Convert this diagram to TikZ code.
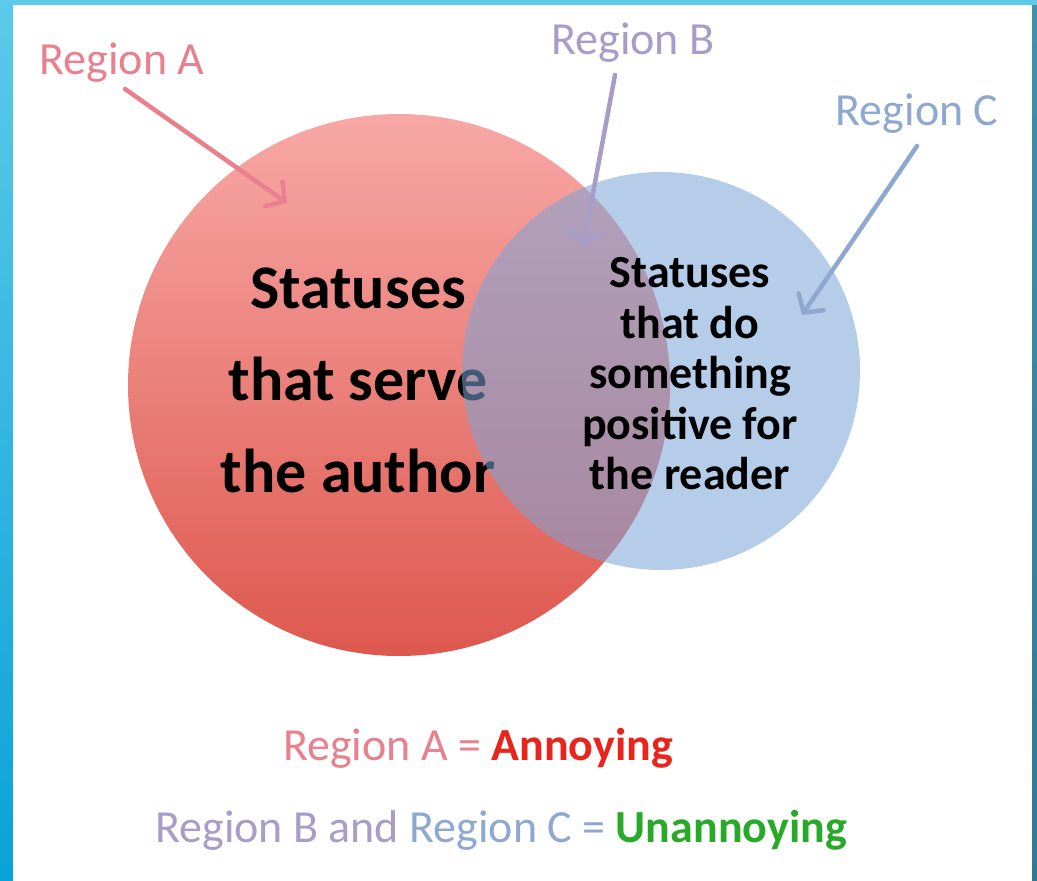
\documentclass[tikz,border=0pt]{standalone}
\usepackage{fontspec}
\setmainfont{Carlito}
\usepackage{xcolor}
\usepackage{tikz}
\usetikzlibrary{arrows.meta,positioning,calc}
\definecolor{frameTop}{RGB}{92,202,234}
\definecolor{frameBot}{RGB}{10,162,216}
\definecolor{frameRight}{RGB}{52,120,142}
\definecolor{regionA}{RGB}{232,128,142}
\definecolor{regionB}{RGB}{168,156,200}
\definecolor{regionC}{RGB}{142,168,208}
\definecolor{redTop}{RGB}{248,168,166}
\definecolor{redBot}{RGB}{221,88,78}
\definecolor{blueSet}{RGB}{122,164,215}
\definecolor{annoyRed}{RGB}{232,36,28}
\definecolor{unannoyGreen}{RGB}{40,170,40}

\begin{document}
\begin{tikzpicture}[
      x=1pt, y=-1pt,
      regionlabel/.style = {
        inner sep=0pt, font=\fontsize{46pt}{50pt}\selectfont,
      },
      setcircle/.style = {
        circle, inner sep=0pt,
      },
      authortext/.style = {
        align=center, inner sep=0pt,
        font=\fontsize{62pt}{92pt}\selectfont\bfseries,
      },
      readertext/.style = {
        align=center, inner sep=0pt,
        font=\fontsize{46pt}{50.5pt}\selectfont\bfseries,
      },
      pointer/.style = {
        line width=4.5pt, line cap=round,
        -{Straight Barb[length=13pt, width=30pt, line cap=round]},
      },
    ]
    % frame and panel
    \fill[top color=frameTop, bottom color=frameBot] (0,0) rectangle (1037,881);
    \fill[top color=frameRight!70!frameTop, bottom color=frameRight] (1032,5) rectangle (1037,881);
    \fill[white] (13,5) rectangle (1032,881);
    \useasboundingbox (0,0) rectangle (1037,881);

    % the two sets
    \node[setcircle, minimum size=542pt, top color=redTop, bottom color=redBot] (authorSet) at (399,385) {};
    \node[authortext] (authorText) at (358,380) {Statuses\\that serve\\the author};
    \node[setcircle, minimum size=398pt, fill=blueSet, fill opacity=.55] (readerSet) at (661,371) {};
    \node[readertext] (readerText) at (690,374) {Statuses\\that do\\something\\positive for\\the reader};

    % region labels and their arrows
    \node[regionlabel, text=regionA] (labelA) at (122,63) {Region A};
    \node[regionlabel, text=regionB] (labelB) at (633,43) {Region B};
    \node[regionlabel, text=regionC] (labelC) at (917,114) {Region C};
    \coordinate (tipA) at (287,203);
    \coordinate (tipB) at (583,247);
    \coordinate (tipC) at (802,315);
    \draw[pointer, regionA] (labelA.south) ++(3,6) -- (tipA);
    \draw[pointer, regionB] (labelB.south) ++(-18,12) -- (tipB);
    \draw[pointer, regionC] (labelC.south) ++(0,12) -- (tipC);

    % key
    \node[regionlabel] (keyA) at (478,748)
      {\textcolor{regionA}{Region A =} \textcolor{annoyRed}{\bfseries Annoying}};
    \node[regionlabel] (keyBC) at (501,830)
      {\textcolor{regionB}{Region B and} \textcolor{regionC}{Region C =} \textcolor{unannoyGreen}{\bfseries Unannoying}};
  \end{tikzpicture}
\end{document}
